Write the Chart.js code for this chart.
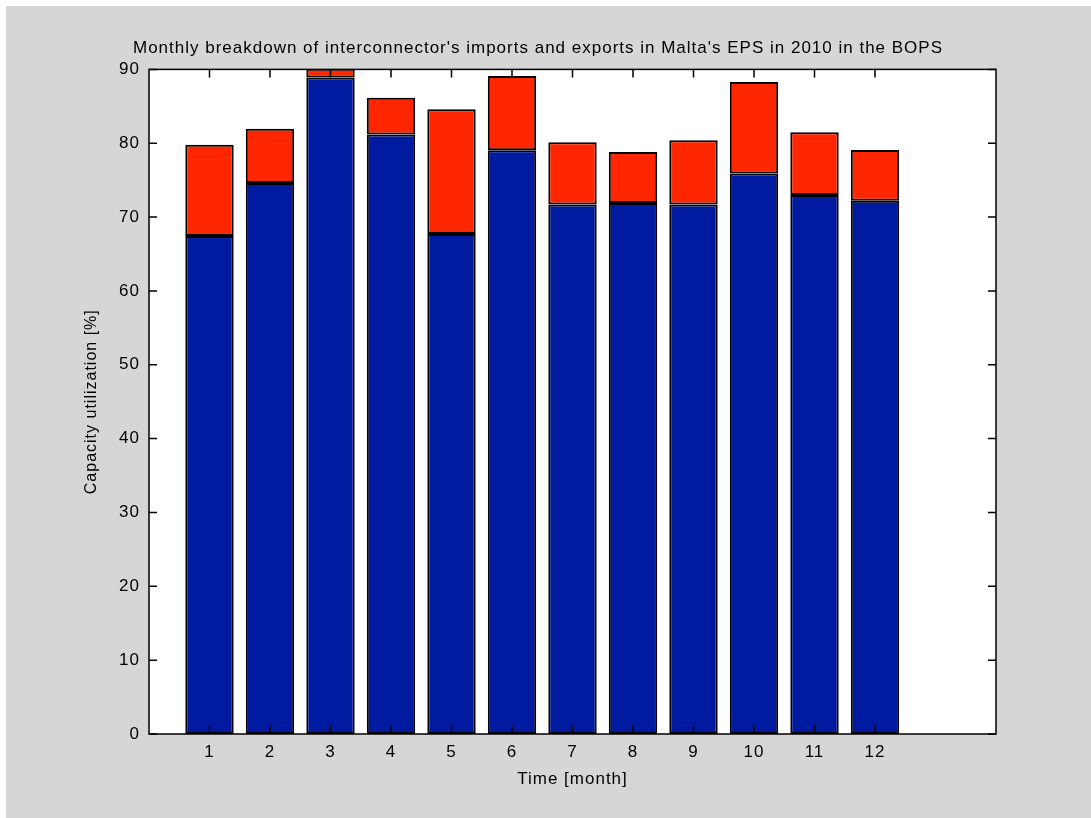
<!DOCTYPE html>
<html>
<head>
<meta charset="utf-8">
<script src="https://cdn.jsdelivr.net/npm/chart.js@4"></script>
<style>
  html, body { margin: 0; padding: 0; background: #ffffff; }
  #wrap { position: absolute; left: 6px; top: 6px; width: 1085px; height: 812px; background: #d6d6d6; }
  canvas { position: absolute; left: -6px; top: -6px; }
</style>
</head>
<body>
<div id="wrap"><canvas id="bar-chart" width="1091" height="818"></canvas></div>
<script>
const months = [1, 2, 3, 4, 5, 6, 7, 8, 9, 10, 11, 12];
const baseUse = [67.45, 74.6, 88.9, 81.2, 67.7, 79.05, 71.7, 71.9, 71.7, 75.9, 73.0, 72.2];
const extraUse = [12.35, 7.35, 1.2, 4.95, 16.9, 10.05, 8.45, 6.9, 8.7, 12.4, 8.5, 6.9];
const yTicks = [0, 10, 20, 30, 40, 50, 60, 70, 80, 90];

document.addEventListener('DOMContentLoaded', () => {
    const ctx = document.getElementById('bar-chart').getContext('2d');
    const fam = 'Liberation Sans, Arial, sans-serif';
    const font = { family: fam, size: 17 };

    // the old matlab text is spaced out a bit
    const spacing = {
        id: 'spacing',
        beforeUpdate(chart) { chart.ctx.letterSpacing = '1px'; },
        beforeLayout(chart) { chart.ctx.letterSpacing = '1px'; },
        beforeDraw(chart) { chart.ctx.letterSpacing = '1px'; }
    };

    // matlab-style box with inward ticks
    const boxTicks = {
        id: 'boxTicks',
        afterDatasetsDraw(chart) {
            const c = chart.ctx, a = chart.chartArea;
            const xs = chart.scales.x, ys = chart.scales.y;
            c.save();
            c.strokeStyle = '#000';
            c.lineWidth = 1.5;
            c.beginPath();
            months.forEach(m => {
                const px = xs.getPixelForValue(m);
                c.moveTo(px, a.bottom); c.lineTo(px, a.bottom - 8);
                c.moveTo(px, a.top); c.lineTo(px, a.top + 8);
            });
            yTicks.forEach(v => {
                const py = ys.getPixelForValue(v);
                c.moveTo(a.left, py); c.lineTo(a.left + 8, py);
                c.moveTo(a.right, py); c.lineTo(a.right - 8, py);
            });
            c.stroke();
            c.strokeRect(a.left, a.top, a.right - a.left, a.bottom - a.top);
            c.restore();
        }
    };

    const whiteArea = {
        id: 'whiteArea',
        beforeDatasetsDraw(chart) {
            const c = chart.ctx, a = chart.chartArea;
            c.save();
            c.fillStyle = '#ffffff';
            c.fillRect(a.left, a.top, a.right - a.left, a.bottom - a.top);
            c.restore();
        }
    };

    new Chart(ctx, {
        type: 'bar',
        data: {
            datasets: [{
                data: months.map((m, i) => ({ x: m, y: baseUse[i] })),
                backgroundColor: '#001aa0',
                borderColor: '#000',
                borderWidth: 2,
                borderSkipped: false,
                barPercentage: 0.8,
                categoryPercentage: 1
            }, {
                data: months.map((m, i) => ({ x: m, y: extraUse[i] })),
                backgroundColor: '#ff2600',
                borderColor: '#000',
                borderWidth: 2,
                borderSkipped: false,
                barPercentage: 0.8,
                categoryPercentage: 1
            }]
        },
        options: {
            responsive: false,
            animation: false,
            layout: { padding: { left: 80, right: 95, top: 0, bottom: 26 } },
            plugins: {
                legend: { display: false },
                tooltip: { enabled: false },
                title: {
                    display: true,
                    text: "Monthly breakdown of interconnector's imports and exports in Malta's EPS in 2010 in the BOPS",
                    color: '#000',
                    font: { family: fam, size: 17, weight: 'normal' },
                    padding: { top: 38, bottom: 11 }
                }
            },
            scales: {
                x: {
                    type: 'linear',
                    stacked: true,
                    offset: false,
                    min: 0,
                    max: 14,
                    grid: { display: false },
                    border: { display: false },
                    ticks: {
                        stepSize: 1,
                        color: '#000',
                        font: font,
                        padding: 0,
                        callback: v => (v >= 1 && v <= 12) ? v : ''
                    },
                    title: { display: true, text: 'Time [month]', color: '#000', font: font, padding: 2 },
                    afterFit: s => { s.height = 58; }
                },
                y: {
                    stacked: true,
                    min: 0,
                    max: 90,
                    grid: { display: false },
                    border: { display: false },
                    ticks: { stepSize: 10, color: '#000', font: font, padding: 1 },
                    title: { display: true, text: 'Capacity utilization [%]', color: '#000', font: { family: fam, size: 16 }, padding: 2 },
                    afterFit: s => { s.width = 69; }
                }
            }
        },
        plugins: [spacing, whiteArea, boxTicks]
    });
});
</script>
</body>
</html>
